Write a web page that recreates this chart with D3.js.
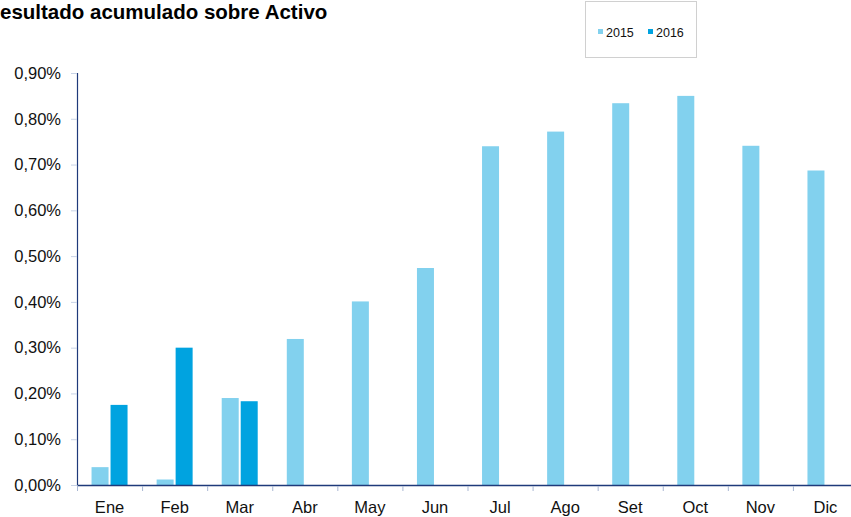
<!DOCTYPE html>
<html>
<head>
<meta charset="utf-8">
<script src="https://cdn.jsdelivr.net/npm/d3@7"></script>
<style>
  body { margin: 0; background: #fff; }
  svg { display: block; font-family: "Liberation Sans", Arial, sans-serif; }
</style>
</head>
<body>
<svg id="chart" width="851" height="517"></svg>
<script>
// data (percent)
var months = ["Ene", "Feb", "Mar", "Abr", "May", "Jun", "Jul", "Ago", "Set", "Oct", "Nov", "Dic"];
var series = ["2015", "2016"];
var values2015 = [0.039, 0.012, 0.190, 0.319, 0.401, 0.474, 0.740, 0.772, 0.834, 0.850, 0.741, 0.687];
var values2016 = [0.175, 0.300, 0.183, null, null, null, null, null, null, null, null, null];
var yTicks = [0, 0.1, 0.2, 0.3, 0.4, 0.5, 0.6, 0.7, 0.8, 0.9];
var colors = ["#82d1ee", "#00a3e0"];

var svg = d3.select("#chart");
var margin = {top: 73, left: 77, bottom: 32},
    plotW = 781,
    height = 517 - margin.top - margin.bottom;

var x = d3.scaleBand().domain(months).range([0, plotW]);
var y = d3.scaleLinear().domain([0, 0.9]).range([height, 0]);
var barW = 17, gap = 2;

var g = svg.append("g")
    .attr("transform", "translate(" + margin.left + "," + margin.top + ")");

// title (its first letter is cut off in the original)
svg.append("text")
    .attr("x", 0).attr("y", 19)
    .attr("font-size", 20.5).attr("font-weight", "bold")
    .attr("fill", "#000")
    .text("esultado acumulado sobre Activo");

// y axis
var yAxis = g.append("g")
    .call(d3.axisLeft(y).tickValues(yTicks).tickSize(6).tickPadding(10)
      .tickFormat(function(d) { return d3.format(".2f")(d).replace(".", ",") + "%"; }));
yAxis.select(".domain").attr("stroke", "#1f3a7a").attr("stroke-width", 1.2).attr("d", "M0.5," + height + "V0");
yAxis.selectAll(".tick line").attr("stroke", "#c8d3e6");
yAxis.selectAll(".tick text").attr("font-size", 16.5).attr("fill", "#111")
    .attr("font-family", "Liberation Sans, Arial, sans-serif");

// bars
var rows = months.map(function(m, i) { return {m: m, v: [values2015[i], values2016[i]]}; });
rows.forEach(function(r) {
  r.v.forEach(function(v, s) {
    if (v == null) return;
    var cx = x(r.m) + x.bandwidth() / 2;
    var bx = s === 0 ? cx - gap / 2 - barW : cx + gap / 2;
    g.append("rect")
      .attr("x", bx).attr("width", barW)
      .attr("y", y(v)).attr("height", height - y(v))
      .attr("fill", colors[s]);
  });
});

// x axis
var xAxis = g.append("g")
    .attr("transform", "translate(0," + height + ")")
    .call(d3.axisBottom(x).tickSize(0).tickPadding(16.5));
xAxis.select(".domain").attr("stroke", "#1f3a7a").attr("stroke-width", 1.5);
xAxis.selectAll(".tick text").attr("font-size", 16.5).attr("fill", "#111")
    .attr("font-family", "Liberation Sans, Arial, sans-serif");
// separators between months
g.append("g").selectAll("line")
    .data(months)
  .enter().append("line")
    .attr("x1", function(d) { return x(d) + 0.5; })
    .attr("x2", function(d) { return x(d) + 0.5; })
    .attr("y1", height + 1).attr("y2", height + 6)
    .attr("stroke", "#a9b7d3");

// legend
var lg = svg.append("g");
lg.append("rect").attr("x", 585.5).attr("y", 1.5).attr("width", 111).attr("height", 56)
    .attr("fill", "#fff").attr("stroke", "#d0d0d0");
series.forEach(function(s, i) {
  var lx = 598 + i * 50;
  lg.append("rect").attr("x", lx).attr("y", 29).attr("width", 5).attr("height", 5).attr("fill", colors[i]);
  lg.append("text").attr("x", lx + 8).attr("y", 36.5).attr("font-size", 12.5).attr("fill", "#111").text(s);
});
</script>
</body>
</html>
